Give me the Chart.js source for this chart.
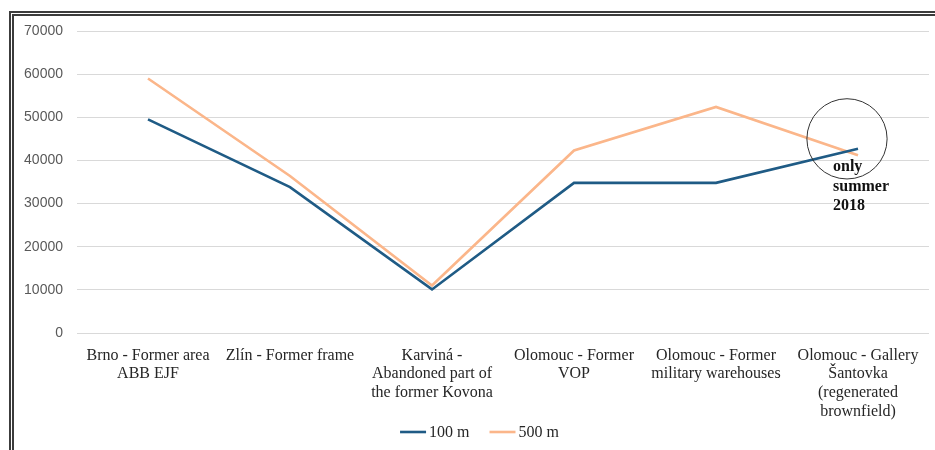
<!DOCTYPE html>
<html>
<head>
<meta charset="utf-8">
<script src="https://cdn.jsdelivr.net/npm/chart.js@4/dist/chart.umd.min.js"></script>
<style>
  html, body { margin: 0; padding: 0; background: #fff; }
  #wrap { position: relative; width: 935px; height: 450px; overflow: hidden; }
  #frame { position: absolute; left: 9px; top: 11px; width: 980px; height: 500px;
           border-left: 5px double #3c3c3c; border-top: 5px double #3c3c3c; }
  canvas { position: absolute; left: 0; top: 0; }
</style>
</head>
<body>
<div id="wrap">
  <div id="frame"></div>
  <canvas id="chart" width="935" height="450"></canvas>
</div>
<script>
// Brownfield sites (multi-line category labels)
const sites = [
  ['Brno - Former area', 'ABB EJF'],
  ['Zlín - Former frame'],
  ['Karviná -', 'Abandoned part of', 'the former Kovona'],
  ['Olomouc - Former', 'VOP'],
  ['Olomouc - Former', 'military warehouses'],
  ['Olomouc - Gallery', 'Šantovka', '(regenerated', 'brownfield)']
];

// Values within 100 m and 500 m of each site
const within100m = [49500, 33800, 10100, 34800, 34800, 42700];
const within500m = [59000, 36400, 11000, 42300, 52400, 41200];

// Value axis ticks
const yTicks = [0, 10000, 20000, 30000, 40000, 50000, 60000, 70000];

// Note circled next to the last site
const noteLines = ['only', 'summer', '2018'];
const noteSiteIndex = 5;
const noteValue = 45000;

const BLUE = '#1f5b85';
const ORANGE = '#fbb68a';
const SERIF = '"Liberation Serif", "Times New Roman", serif';

// Circled note beside the last site
const notePlugin = {
  id: 'siteNote',
  afterDatasetsDraw(chart) {
    const { ctx, scales: { x, y } } = chart;
    const px = x.getPixelForValue(noteSiteIndex);
    const unit = y.getPixelForValue(0) - y.getPixelForValue(10000);
    ctx.save();
    ctx.strokeStyle = '#333';
    ctx.lineWidth = 1;
    ctx.beginPath();
    ctx.arc(px - 11, y.getPixelForValue(noteValue), unit * 0.93, 0, Math.PI * 2);
    ctx.stroke();
    ctx.fillStyle = '#111';
    ctx.font = 'bold 16px ' + SERIF;
    ctx.textAlign = 'left';
    ctx.textBaseline = 'middle';
    const top = y.getPixelForValue(38500);
    noteLines.forEach((t, i) => ctx.fillText(t, px - 25, top + i * 19.5));
    ctx.restore();
  }
};

// Compact line-sample legend under the axis labels
const seriesKey = {
  id: 'seriesKey',
  afterDraw(chart) {
    const { ctx } = chart;
    const sample = 26, gapText = 3, gapItem = 20;
    ctx.save();
    ctx.font = '16px ' + SERIF;
    ctx.textBaseline = 'middle';
    ctx.textAlign = 'left';
    const items = chart.data.datasets.map(ds => ({
      ds, w: sample + gapText + ctx.measureText(ds.label).width
    }));
    const total = items.reduce((a, it) => a + it.w, 0) + gapItem * (items.length - 1);
    let cx = chart.width / 2 + 12 - total / 2;
    const cy = 432;
    items.forEach(({ ds, w }) => {
      ctx.strokeStyle = ds.borderColor;
      ctx.lineWidth = 2.6;
      ctx.beginPath();
      ctx.moveTo(cx, cy);
      ctx.lineTo(cx + sample, cy);
      ctx.stroke();
      ctx.fillStyle = '#262626';
      ctx.fillText(ds.label, cx + sample + gapText, cy + 1);
      cx += w + gapItem;
    });
    ctx.restore();
  }
};

new Chart(document.getElementById('chart'), {
  type: 'line',
  data: {
    labels: sites,
    datasets: [
      { label: '100 m', data: within100m, borderColor: BLUE, backgroundColor: BLUE,
        borderWidth: 2.6, pointRadius: 0, tension: 0 },
      { label: '500 m', data: within500m, borderColor: ORANGE, backgroundColor: ORANGE,
        borderWidth: 2.6, pointRadius: 0, tension: 0 }
    ]
  },
  options: {
    responsive: false,
    animation: false,
    devicePixelRatio: 1,
    layout: { padding: { top: 31, left: 18, right: 6, bottom: 0 } },
    plugins: {
      tooltip: { enabled: false },
      legend: { display: false }
    },
    scales: {
      x: {
        offset: true,
        grid: { display: false },
        border: { display: false },
        ticks: {
          autoSkip: false, maxRotation: 0, minRotation: 0, padding: 5,
          color: '#262626',
          font: { family: SERIF, size: 16, lineHeight: 1.17 }
        },
        afterFit(s) { s.height = 117; }
      },
      y: {
        min: 0, max: 70000,
        afterBuildTicks(s) { s.ticks = yTicks.map(v => ({ value: v })); },
        grid: { color: '#d9d9d9', lineWidth: 1, drawTicks: false },
        border: { display: false },
        ticks: {
          padding: 14, color: '#595959',
          font: { family: '"Liberation Sans", Arial, sans-serif', size: 14 },
          callback: (v) => String(v)
        },
        afterFit(s) { s.width = 59; }
      }
    }
  },
  plugins: [notePlugin, seriesKey]
});
</script>
</body>
</html>
